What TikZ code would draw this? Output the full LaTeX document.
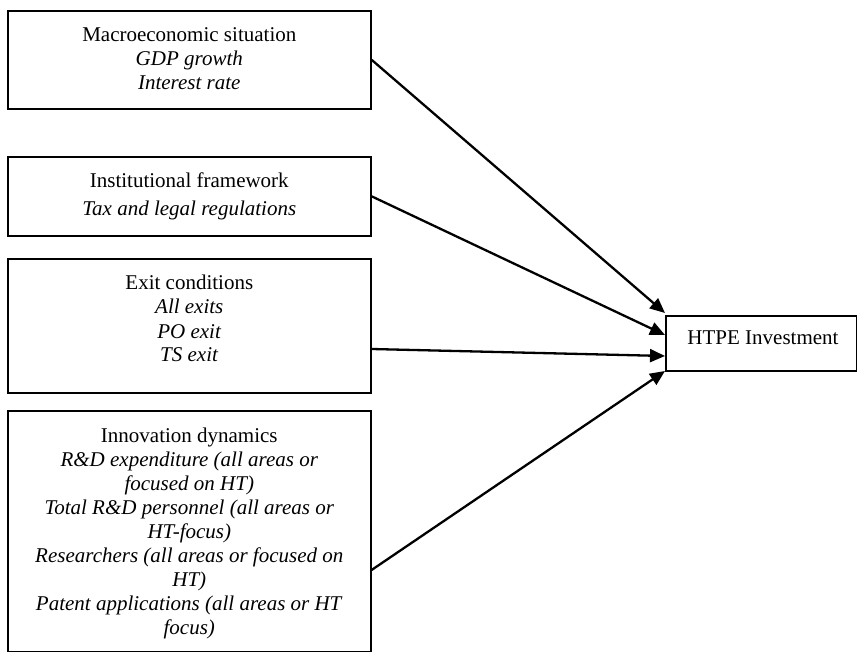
\documentclass[tikz,border=0pt]{standalone}
\usepackage{fontspec}
\setmainfont{Liberation Serif}
\usetikzlibrary{arrows.meta,calc}
\tikzset{
  box/.style={draw, line width=1.6pt, inner sep=0pt, anchor=north west},
  txt/.style={align=center, inner sep=0pt, anchor=north, font=\fontsize{21}{24}\selectfont},
  conn/.style={line width=2.3pt, -{Triangle[length=15pt,width=13pt]}}
}
\begin{document}
\begin{tikzpicture}[x=1pt,y=-1pt]
\useasboundingbox (0,0) rectangle (857,652);
\fill[white] (0,0) rectangle (857,652);
\clip (0,0) rectangle (857,652);
% boxes
\node[box, minimum width=363pt, minimum height=98pt]  (b1) at (7,10)  {};
\node[box, minimum width=363pt, minimum height=79pt]  (b2) at (7,156) {};
\node[box, minimum width=363pt, minimum height=134pt] (b3) at (7,258) {};
\node[box, minimum width=363pt, minimum height=240.5pt] (b4) at (7,410) {};
\node[box, minimum width=191pt, minimum height=55pt]  (h)  at (665,315) {};
% texts
\node[txt] (t1) at ($(b1.north)+(0,15)$) {\strut Macroeconomic situation\\ \textit{GDP growth}\\ \textit{Interest rate}};
\node[txt] (t2) at ($(b2.north)+(0,15)$) {\strut Institutional framework\\[4pt] \textit{Tax and legal regulations}};
\node[txt] (t3) at ($(b3.north)+(0,15)$) {\strut Exit conditions\\ \textit{All exits}\\ \textit{PO exit}\\ \textit{TS exit}};
\node[txt] (t4) at ($(b4.north)+(0,15)$) {\strut Innovation dynamics\\
  \textit{R\&D expenditure (all areas or}\\
  \textit{focused on HT)}\\
  \textit{Total R\&D personnel (all areas or}\\
  \textit{HT-focus)}\\
  \textit{Researchers (all areas or focused on}\\
  \textit{HT)}\\
  \textit{Patent applications (all areas or HT}\\
  \textit{focus)}};
\node[font=\fontsize{21}{24}\selectfont, inner sep=0pt] (th) at (763,338) {HTPE Investment};
% connector ends
\coordinate (s3) at ($(b3.north east)+(0,91)$);
\coordinate (s4) at ($(b4.north east)+(0,160)$);
\coordinate (e1) at (665,313);
\coordinate (e2) at (665,335);
\coordinate (e3) at (665,356);
\coordinate (e4) at (665,371);
\draw[conn] (b1.east) -- (e1);
\draw[conn] (b2.east) -- (e2);
\draw[conn] (s3) -- (e3);
\draw[conn] (s4) -- (e4);
\end{tikzpicture}
\end{document}
